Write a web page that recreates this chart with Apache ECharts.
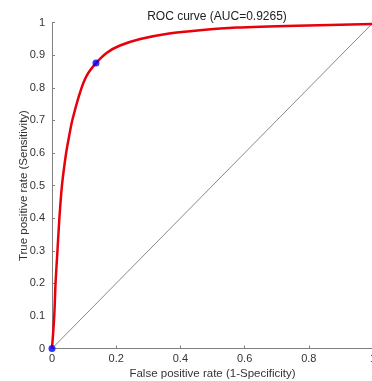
<!DOCTYPE html>
<html>
<head>
<meta charset="utf-8">
<script src="https://cdn.jsdelivr.net/npm/echarts@6/dist/echarts.min.js"></script>
<style>html,body{margin:0;padding:0;background:#fff;}#c{width:372px;height:381px;}</style>
</head>
<body>
<div id="c"></div>
<script>
const titleText = 'ROC curve (AUC=0.9265)';
const xName = 'False positive rate (1-Specificity)';
const yName = 'True positive rate (Sensitivity)';
const fpr = [0, 0.007, 0.011, 0.017, 0.023, 0.031, 0.044, 0.054, 0.063, 0.088, 0.109, 0.137, 0.171, 0.212, 0.275, 0.365, 0.461, 0.575, 0.762, 1.0];
const tpr = [0, 0.100, 0.200, 0.300, 0.400, 0.500, 0.600, 0.655, 0.700, 0.788, 0.839, 0.876, 0.908, 0.930, 0.950, 0.967, 0.977, 0.985, 0.991, 0.996];
const markX = [0, 0.137];
const markY = [0, 0.876];
const diagX = [0, 1];
const diagY = [0, 1];

const chart = echarts.init(document.getElementById('c'), null, {renderer: 'canvas'});
const font = 'Liberation Sans, Arial, Helvetica, sans-serif';
const axisCol = '#808080';
const textCol = '#333';
chart.setOption({
  animation: false,
  title: {
    text: titleText, left: 212, top: 6, textAlign: 'center',
    textStyle: {fontFamily: font, fontSize: 12, fontWeight: 'normal', color: '#222'}
  },
  grid: {left: 52, right: -1, top: 22.7, bottom: 32.5, containLabel: false, outerBoundsMode: 'none'},
  xAxis: {
    type: 'value', min: 0, max: 1, interval: 0.2,
    name: xName, nameLocation: 'middle', nameGap: 19, nameMoveOverlap: false,
    nameTextStyle: {fontFamily: font, fontSize: 11.5, color: textCol, verticalAlign: 'top'},
    axisLine: {show: true, lineStyle: {color: axisCol, width: 1}},
    axisTick: {show: true, inside: true, length: 3, lineStyle: {color: axisCol}},
    axisLabel: {fontFamily: font, fontSize: 11, color: textCol, margin: 5, showMaxLabel: true},
    splitLine: {show: false}
  },
  yAxis: {
    type: 'value', min: 0, max: 1, interval: 0.1,
    name: yName, nameLocation: 'middle', nameGap: 22, nameRotate: 90, nameMoveOverlap: false,
    nameTextStyle: {fontFamily: font, fontSize: 11.5, color: textCol},
    axisLine: {show: true, lineStyle: {color: axisCol, width: 1}},
    axisTick: {show: true, inside: true, length: 3, lineStyle: {color: axisCol}},
    axisLabel: {fontFamily: font, fontSize: 11, color: textCol, margin: 7},
    splitLine: {show: false}
  },
  series: [
    {
      type: 'line', data: diagX.map((v, i) => [v, diagY[i]]),
      symbol: 'none', lineStyle: {color: '#555', width: 0.7}, z: 1
    },
    {
      type: 'line', data: fpr.map((v, i) => [v, tpr[i]]),
      symbol: 'none', smooth: 0.3,
      lineStyle: {color: '#e8000b', width: 2.5}, z: 2
    },
    {
      type: 'scatter', data: markX.map((v, i) => [v, markY[i]]),
      symbol: 'circle', symbolSize: 7, itemStyle: {color: '#0000ff'}, z: 3
    }
  ]
});
</script>
</body>
</html>
